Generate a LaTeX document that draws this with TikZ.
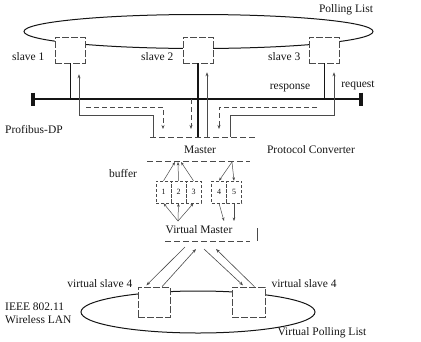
\documentclass[tikz,border=0pt]{standalone}
\usepackage{fontspec}
\setmainfont{Liberation Serif}
\usetikzlibrary{arrows.meta}
\definecolor{scanink}{HTML}{151515}
\definecolor{scangray}{HTML}{4A4A4A}

\begin{document}
\begin{tikzpicture}[
  x=1pt,
  y=-1pt,
  every node/.style={font=\fontsize{11.5}{13}\selectfont, scanink},
  ring/.style={scanink, line width=1pt},
  bus/.style={scanink, line width=1.4pt},
  busend/.style={scanink, line width=3.6pt},
  stub/.style={scanink, line width=1pt},
  box/.style={draw=scangray, fill=white, line width=0.6pt, dash pattern=on 7pt off 2pt,
    minimum width=30pt, minimum height=26pt, inner sep=0pt},
  cell/.style={draw=scangray, line width=0.5pt, dash pattern=on 3pt off 2pt,
    minimum width=15pt, minimum height=22pt, inner sep=0pt, font=\fontsize{8}{9}\selectfont},
  req/.style={scangray, line width=0.6pt, -{Stealth[length=4pt]}},
  resp/.style={scangray, line width=0.6pt, dash pattern=on 5pt off 3pt, -{Stealth[length=4pt]}},
  flow/.style={scangray, line width=0.5pt, -{Stealth[length=3.5pt]}},
  rule/.style={scangray, line width=0.6pt, dash pattern=on 6pt off 3pt}
]
  % ---- same frame as the scanned figure ----------------------------------
  \useasboundingbox (0,0) rectangle (421,341);

  % ---- polling list with the three slaves ---------------------------------
  \draw[ring] (198.5,31.5) ellipse [x radius=174.5, y radius=17];
  \node[box] (slave1) at (70,50) {};
  \node[box] (slave2) at (198,50) {};
  \node[box] (slave3) at (324,50) {};
  \node[anchor=east] at (48,57) {slave 1};
  \node[anchor=east] at (177,57) {slave 2};
  \node[anchor=east] at (304,57) {slave 3};
  \node (plist) at (346,10) {Polling List};

  % ---- Profibus-DP line ---------------------------------------------------
  \coordinate (busL) at (33,99);
  \coordinate (busR) at (361,99);
  \draw[bus] (busL) -- (busR);
  \draw[busend] ([yshift=6.5pt]busL) -- ([yshift=-6.5pt]busL);
  \draw[busend] ([yshift=6.5pt]busR) -- ([yshift=-6.5pt]busR);
  \node (profibus) at (34,130) {Profibus-DP};
  \node (response) at (290,88) {response};
  \node (request) at (358,85) {request};

  \draw[stub] (slave1.south) -- (slave1.south |- busL);
  \draw[stub] (slave3.south) -- (slave3.south |- busR);

  % ---- protocol converter -------------------------------------------------
  \coordinate (convTL) at (150,137);
  \coordinate (convTR) at (255,137);
  \draw[rule] (convTL) -- (convTR);
  \node (master) at (200,150) {Master};
  \draw[rule] (147,161) -- (250,161);
  \node (converter) at (311,150) {Protocol Converter};

  \draw[stub, line width=1.4pt] (slave2.south) -- (slave2.south |- convTL);

  % requests go up, responses come down
  \coordinate (q1) at (153,137);
  \coordinate (q2) at (207,137);
  \coordinate (q3) at (230,137);
  \coordinate (p1) at (86,107);
  \coordinate (p2) at (191,99);
  \coordinate (p3) at (317,107);
  \draw[req, shorten >=11pt] (q1) -- (153,115) -- (79,115) -- ([xshift=9pt]slave1.south);
  \draw[req, shorten >=9pt] (q2) -- ([xshift=9pt]slave2.south);
  \draw[req, shorten >=9pt] (q3) -- (230,115) -- (334,115) -- ([xshift=10pt]slave3.south);
  \draw[resp, shorten >=8pt] (p1) -- (163,107) -- (163,137);
  \draw[resp, shorten >=8pt] (p2) -- (191,137);
  \draw[resp, shorten >=8pt] (p3) -- (219,107) -- (219,137);

  % ---- buffer -------------------------------------------------------------
  \node (buffer) at (123,174) {buffer};
  \node[cell] (cell1) at (163.5,192) {1};
  \node[cell] (cell2) at (178.5,192) {2};
  \node[cell] (cell3) at (193.5,192) {3};
  \node[cell] (cell4) at (219,192) {4};
  \node[cell] (cell5) at (234,192) {5};

  \coordinate (mL) at (178,162);
  \coordinate (mR) at (232,162);
  \coordinate (vL) at (178,221);
  \coordinate (vR1) at (224,221);
  \coordinate (vR2) at (234,221);
  \draw[flow] (cell1.north) -- ([xshift=-3pt]mL);
  \draw[flow] (cell2.north) -- (mL);
  \draw[flow] (cell3.north) -- ([xshift=3pt]mL);
  \draw[flow] (mR) -- (cell4.north);
  \draw[flow] (mR) -- (cell5.north);
  \draw[flow] (vL) -- (cell1.south);
  \draw[flow] (vL) -- (cell2.south);
  \draw[flow] (vL) -- (cell3.south);
  \draw[flow] (cell4.south) -- (vR1);
  \draw[flow] (cell5.south) -- (vR2);

  \node (vmaster) at (199,230) {Virtual Master};
  \draw[rule] (165,241) -- (250,241);
  \draw[scangray, line width=0.6pt] (257,228) -- (257,241);

  % ---- virtual polling list -----------------------------------------------
  \draw[ring] (198,312) ellipse [x radius=117, y radius=21];
  \node[box, minimum width=32pt, minimum height=30pt] (vslaveA) at (154,302) {};
  \node[box, minimum width=33pt, minimum height=30pt] (vslaveB) at (248.5,302) {};
  \node[anchor=east] at (136,284) {virtual slave 4};
  \node[anchor=west] at (268,284) {virtual slave 4};

  \coordinate (vA1) at (185,247);
  \coordinate (vA2) at (196,249);
  \coordinate (vB1) at (204,249);
  \coordinate (vB2) at (216,249);
  \draw[req, shorten >=2pt] (vA1) -- ([xshift=-9pt]vslaveA.north);
  \draw[req] ([xshift=8pt]vslaveA.north) -- (vA2);
  \draw[req, shorten >=2pt] (vB1) -- ([xshift=-4pt]vslaveB.north);
  \draw[req] ([xshift=6pt]vslaveB.north) -- (vB2);

  \node[anchor=west, align=left, inner sep=0pt] (wlan) at (5,313)
    {IEEE 802.11\\Wireless LAN};
  \node (vplist) at (322,333) {Virtual Polling List};
\end{tikzpicture}
\end{document}
